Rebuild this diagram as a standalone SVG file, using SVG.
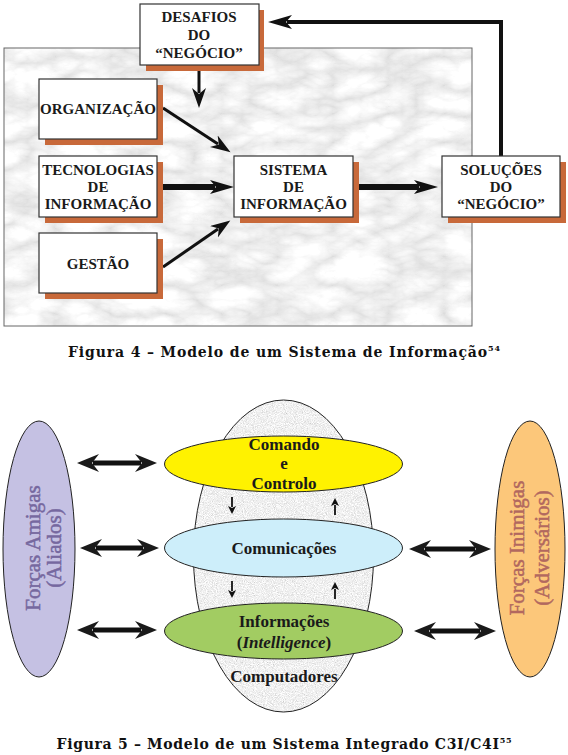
<svg xmlns="http://www.w3.org/2000/svg" width="568" height="755" viewBox="0 0 568 755">
<defs>
<style>
.box{fill:#fff;stroke:#333;stroke-width:1.2}
.sh{fill:#c8693a}
.bt{font-family:"Liberation Serif",serif;font-weight:bold;font-size:15px;fill:#1a1a1a;text-anchor:middle}
.ln{stroke:#111;fill:none}
.el{stroke:#222;stroke-width:1}
.et{font-family:"Liberation Serif",serif;font-weight:bold;font-size:17px;fill:#1a1a1a;text-anchor:middle}
.side{font-family:"Liberation Serif",serif;font-size:21px;stroke-width:0.5;text-anchor:middle}
.cap{font-family:"DejaVu Serif",serif;font-weight:bold;font-size:14px;fill:#111;text-anchor:middle}
</style>
<filter id="marble" x="0" y="0" width="100%" height="100%">
<feTurbulence type="turbulence" baseFrequency="0.018 0.035" numOctaves="5" seed="11" result="n"/>
<feColorMatrix in="n" type="matrix" values="0.5 0 0 0 0.72  0.5 0 0 0 0.72  0.5 0 0 0 0.72  0 0 0 0 1" result="g"/>
<feComposite in="g" in2="SourceGraphic" operator="in"/>
</filter>
<filter id="grain" x="0" y="0" width="100%" height="100%">
<feTurbulence type="fractalNoise" baseFrequency="1.1" numOctaves="2" seed="2" result="n"/>
<feColorMatrix in="n" type="matrix" values="0.45 0.45 0 0 0.42  0.45 0.45 0 0 0.42  0.45 0.45 0 0 0.42  0 0 0 0 1" result="g"/>
<feComposite in="g" in2="SourceGraphic" operator="in"/>
</filter>
<marker id="ah" markerUnits="userSpaceOnUse" markerWidth="26" markerHeight="16" refX="5" refY="7" orient="auto">
<path d="M0,0 L24,7 L0,14 L6,7 z" fill="#111"/>
</marker>
<marker id="ahs" markerUnits="userSpaceOnUse" markerWidth="22" markerHeight="16" refX="5" refY="7" orient="auto">
<path d="M0,0 L20,7 L0,14 L6,7 z" fill="#111"/>
</marker>
<marker id="dh" markerUnits="userSpaceOnUse" markerWidth="26" markerHeight="20" refX="6" refY="9" orient="auto-start-reverse">
<path d="M0,0 L22,9 L0,18 L7,9 z" fill="#1a1a1a"/>
</marker>
<marker id="sm" markerUnits="userSpaceOnUse" markerWidth="10" markerHeight="10" refX="1" refY="4" orient="auto">
<path d="M0,0 L8,4 L0,8 L2,4 z" fill="#111"/>
</marker>
</defs>

<!-- Figure 4 background -->
<rect id="marble-bg" x="4" y="48" width="468" height="278" fill="#e4e4e4" filter="url(#marble)"/>
<rect x="4" y="48" width="468" height="278" fill="none" stroke="#666" stroke-width="1"/>

<g id="connectors-top">
<line class="ln" x1="199" y1="71" x2="199" y2="93" stroke-width="3" marker-end="url(#ahs)"/>
<line class="ln" x1="163" y1="108" x2="218" y2="144" stroke-width="3" marker-end="url(#ahs)"/>
<line class="ln" x1="163" y1="187" x2="215" y2="187" stroke-width="6" marker-end="url(#ah)"/>
<line class="ln" x1="163" y1="267" x2="218" y2="229" stroke-width="3" marker-end="url(#ahs)"/>
<line class="ln" x1="359" y1="187" x2="419" y2="187" stroke-width="6" marker-end="url(#ah)"/>
<polyline class="ln" points="501,156 501,22 287,22" stroke-width="4" marker-end="url(#ah)"/>
</g>

<g id="desafios">
<rect class="sh" x="146" y="10" width="118" height="61"/>
<rect class="box" x="140" y="4" width="119" height="61"/>
<text class="bt" x="199" y="22">DESAFIOS</text>
<text class="bt" x="199" y="40">DO</text>
<text class="bt" x="199" y="58">“NEGÓCIO”</text>
</g>
<g id="organizacao">
<rect class="sh" x="45" y="85" width="118" height="60"/>
<rect class="box" x="39" y="79" width="118" height="60"/>
<text class="bt" x="98" y="114">ORGANIZAÇÃO</text>
</g>
<g id="tecnologias">
<rect class="sh" x="45" y="162" width="118" height="61"/>
<rect class="box" x="39" y="156" width="118" height="61"/>
<text class="bt" x="98" y="175">TECNOLOGIAS</text>
<text class="bt" x="98" y="192">DE</text>
<text class="bt" x="98" y="209">INFORMAÇÃO</text>
</g>
<g id="gestao">
<rect class="sh" x="45" y="239" width="118" height="60"/>
<rect class="box" x="39" y="233" width="118" height="60"/>
<text class="bt" x="98" y="269">GESTÃO</text>
</g>
<g id="sistema">
<rect class="sh" x="240" y="162" width="119" height="61"/>
<rect class="box" x="234" y="156" width="119" height="61"/>
<text class="bt" x="293.5" y="175">SISTEMA</text>
<text class="bt" x="293.5" y="192">DE</text>
<text class="bt" x="293.5" y="209">INFORMAÇÃO</text>
</g>
<g id="solucoes">
<rect class="sh" x="448" y="162" width="118" height="61"/>
<rect class="box" x="442" y="156" width="118" height="61"/>
<text class="bt" x="501" y="175">SOLUÇÕES</text>
<text class="bt" x="501" y="192">DO</text>
<text class="bt" x="501" y="209">“NEGÓCIO”</text>
</g>

<text class="cap" x="284" y="357" textLength="432" lengthAdjust="spacing">Figura 4 – Modelo de um Sistema de Informação<tspan font-size="8" dy="-6">54</tspan></text>

<!-- Figure 5 -->
<g id="computadores">
<ellipse cx="283.5" cy="556" rx="90" ry="156" fill="#e2e2e2" filter="url(#grain)"/>
<ellipse class="el" cx="283.5" cy="556" rx="90" ry="156" fill="none"/>
<text class="et" x="284" y="682" font-size="15">Computadores</text>
</g>

<g id="connectors-bottom">
<line class="ln" x1="232" y1="497" x2="232" y2="507" stroke-width="1.8" marker-end="url(#sm)"/>
<line class="ln" x1="335" y1="515" x2="335" y2="505" stroke-width="1.8" marker-end="url(#sm)"/>
<line class="ln" x1="232" y1="581" x2="232" y2="591" stroke-width="1.8" marker-end="url(#sm)"/>
<line class="ln" x1="335" y1="599" x2="335" y2="589" stroke-width="1.8" marker-end="url(#sm)"/>
<line class="ln" x1="93" y1="463" x2="141" y2="463" stroke="#1a1a1a" stroke-width="5" marker-start="url(#dh)" marker-end="url(#dh)"/>
<line class="ln" x1="96" y1="548" x2="143" y2="548" stroke="#1a1a1a" stroke-width="5" marker-start="url(#dh)" marker-end="url(#dh)"/>
<line class="ln" x1="93" y1="630" x2="141" y2="630" stroke="#1a1a1a" stroke-width="5" marker-start="url(#dh)" marker-end="url(#dh)"/>
<line class="ln" x1="425" y1="549" x2="475" y2="549" stroke="#1a1a1a" stroke-width="5" marker-start="url(#dh)" marker-end="url(#dh)"/>
<line class="ln" x1="430" y1="631" x2="480" y2="631" stroke="#1a1a1a" stroke-width="5" marker-start="url(#dh)" marker-end="url(#dh)"/>
</g>

<g id="comando">
<ellipse class="el" cx="283.5" cy="464" rx="119" ry="28" fill="#fff200"/>
<text class="et" x="284" y="450">Comando</text>
<text class="et" x="284" y="469">e</text>
<text class="et" x="284" y="489">Controlo</text>
</g>
<g id="comunicacoes">
<ellipse class="el" cx="283.5" cy="548" rx="119" ry="29" fill="#cdeefa"/>
<text class="et" x="284" y="554">Comunicações</text>
</g>
<g id="informacoes">
<ellipse class="el" cx="283.5" cy="631" rx="119" ry="28" fill="#a2cc62"/>
<text class="et" x="284" y="627">Informações</text>
<text class="et" x="284" y="648">(<tspan font-style="italic">Intelligence</tspan>)</text>
</g>

<g id="aliados">
<ellipse class="el" cx="39" cy="549" rx="36" ry="128" fill="#c5c1e3" stroke="#555"/>
<text class="side" fill="#76689f" stroke="#76689f" transform="translate(40,548) rotate(-90)">Forças Amigas</text>
<text class="side" fill="#76689f" stroke="#76689f" transform="translate(61,548) rotate(-90)">(Aliados)</text>
</g>
<g id="adversarios">
<ellipse class="el" cx="530" cy="549" rx="35" ry="128" fill="#fcc77a" stroke="#777"/>
<text class="side" fill="#b2685f" stroke="#b2685f" transform="translate(524,548) rotate(-90)">Forças Inimigas</text>
<text class="side" fill="#b2685f" stroke="#b2685f" transform="translate(549,548) rotate(-90)">(Adversários)</text>
</g>

<text class="cap" x="284" y="749" textLength="455" lengthAdjust="spacing">Figura 5 – Modelo de um Sistema Integrado C3I/C4I<tspan font-size="8" dy="-6">55</tspan></text>
</svg>
